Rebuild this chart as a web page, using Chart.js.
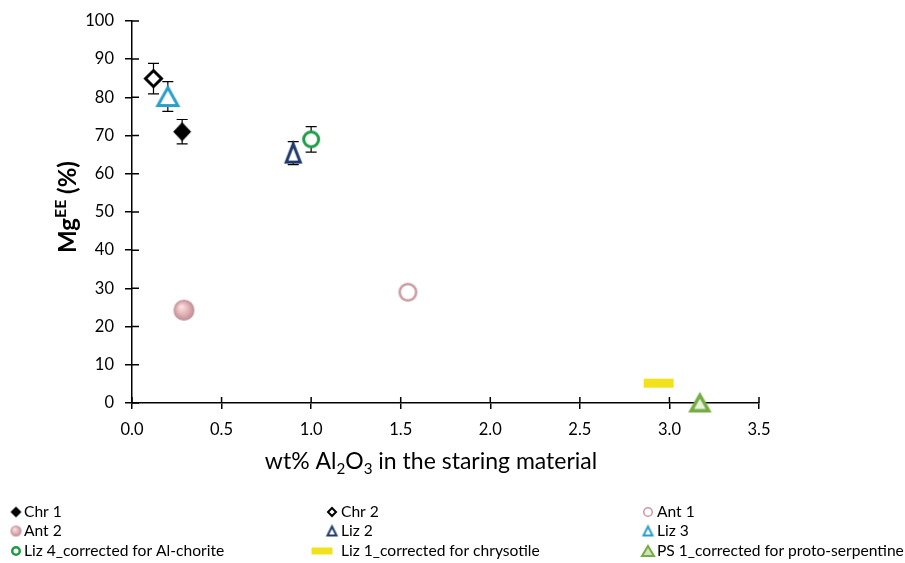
<!DOCTYPE html>
<html>
<head>
<meta charset="utf-8">
<script src="https://cdn.jsdelivr.net/npm/chart.js@4.4.1/dist/chart.umd.min.js"></script>
<style>
  html, body { margin: 0; padding: 0; background: #fff; }
  canvas { display: block; }
</style>
</head>
<body>
<canvas id="chart" width="905" height="563"></canvas>
<script>
// ====== data ======
const names = [
  "Chr 1", "Chr 2", "Ant 1",
  "Ant 2", "Liz 2", "Liz 3",
  "Liz 4_corrected for Al-chorite", "Liz 1_corrected for chrysotile", "PS 1_corrected for proto-serpentine"
];
const al2o3 = [0.28, 0.12, 1.54, 0.29, 0.90, 0.20, 1.00, 2.94, 3.17];
const mgEE  = [71.0, 84.9, 29.0, 24.3, 65.4, 80.2, 69.0, 5.2, 0.0];
const mgErr = [3.2, 4.0, null, null, 3.0, 3.9, 3.35, null, null];
const xTickValues = [0, 0.5, 1.0, 1.5, 2.0, 2.5, 3.0, 3.5];
const yTickValues = [0, 10, 20, 30, 40, 50, 60, 70, 80, 90, 100];

const FONT = "Lato, 'Noto Sans', sans-serif";

// marker look, one per series
const markers = [
  { shape: "diamond", w: 18, h: 19, fill: "#000", stroke: "#000", lw: 1 },
  { shape: "diamond", w: 19, h: 19, fill: "#fff", stroke: "#000", lw: 3 },
  { shape: "circle", w: 19, h: 19, fill: "#fff", stroke: "#c99a9f", lw: 2.5 },
  { shape: "sphere", w: 21, h: 21 },
  { shape: "triangle", w: 17, h: 21, fill: "#fff", stroke: "#1f3a6a", lw: 3 },
  { shape: "triangle", w: 23, h: 21, fill: "#fff", stroke: "#2a9fca", lw: 3 },
  { shape: "circle", w: 18, h: 18, fill: "#fff", stroke: "#1d9c46", lw: 3 },
  { shape: "bar", w: 30, h: 9, fill: "#f1e21c" },
  { shape: "triangle", w: 21, h: 19, fill: "#e8f2da", stroke: "#75ab43", lw: 3.5 },
];
const legendMarkers = [
  { shape: "diamond", w: 11, h: 11, fill: "#000", stroke: "#000", lw: 1 },
  { shape: "diamond", w: 10, h: 10, fill: "#fff", stroke: "#000", lw: 2 },
  { shape: "circle", w: 10, h: 10, fill: "#fff", stroke: "#c99a9f", lw: 1.5 },
  { shape: "sphere", w: 11, h: 11 },
  { shape: "triangle", w: 11, h: 11, fill: "#fff", stroke: "#1f3a6a", lw: 2 },
  { shape: "triangle", w: 11, h: 11, fill: "#fff", stroke: "#2a9fca", lw: 2 },
  { shape: "circle", w: 10, h: 10, fill: "#fff", stroke: "#1d9c46", lw: 2.5 },
  { shape: "bar", w: 21, h: 7, fill: "#f1e21c" },
  { shape: "triangle", w: 14, h: 12, fill: "#cfe3b6", stroke: "#75ab43", lw: 2 },
];
const legendIconX = [16, 332, 648];
const legendTextX = [24, 341, 657];
const legendRowY = [512, 531, 551];

// ====== marker images ======
function makeMarker(m) {
  const pad = 4;
  const cv = document.createElement("canvas");
  cv.width = Math.ceil(m.w + pad * 2);
  cv.height = Math.ceil(m.h + pad * 2);
  const c = cv.getContext("2d");
  const cx = cv.width / 2, cy = cv.height / 2;
  const lw = m.lw || 0;
  const w = m.w - lw, h = m.h - lw;
  c.lineJoin = "miter";
  c.beginPath();
  if (m.shape === "diamond") {
    c.moveTo(cx, cy - h / 2);
    c.lineTo(cx + w / 2, cy);
    c.lineTo(cx, cy + h / 2);
    c.lineTo(cx - w / 2, cy);
    c.closePath();
  } else if (m.shape === "triangle") {
    c.moveTo(cx, cy - h / 2);
    c.lineTo(cx + w / 2, cy + h / 2);
    c.lineTo(cx - w / 2, cy + h / 2);
    c.closePath();
  } else if (m.shape === "bar") {
    c.rect(cx - m.w / 2, cy - m.h / 2, m.w, m.h);
  } else {
    c.arc(cx, cy, (m.shape === "sphere" ? m.w : w) / 2, 0, Math.PI * 2);
  }
  if (m.shape === "sphere") {
    const r = m.w / 2;
    const g = c.createRadialGradient(cx - r * 0.3, cy - r * 0.35, 0, cx, cy, r);
    g.addColorStop(0, "#fbe8ea");
    g.addColorStop(0.55, "#e6b4b9");
    g.addColorStop(1, "#b98c92");
    c.fillStyle = g;
    c.fill();
  } else {
    c.fillStyle = m.fill;
    c.fill();
    if (lw) {
      c.lineWidth = lw;
      c.strokeStyle = m.stroke;
      c.stroke();
    }
  }
  return cv;
}
const pointImgs = markers.map(makeMarker);
const legendImgs = legendMarkers.map(makeMarker);

// ====== text with sub / superscripts ======
function drawRich(ctx, parts, x, y, size, weight) {
  const fontOf = (s) => `${weight} ${s ? size * 0.66 : size}px ${FONT}`;
  let total = 0;
  parts.forEach((p) => {
    ctx.font = fontOf(p.s);
    total += ctx.measureText(p.t).width;
  });
  let cur = x - total / 2;
  ctx.textAlign = "left";
  ctx.textBaseline = "alphabetic";
  parts.forEach((p) => {
    ctx.font = fontOf(p.s);
    const dy = p.s === 1 ? size * 0.22 : p.s === -1 ? -size * 0.42 : 0;
    ctx.fillText(p.t, cur, y + dy);
    cur += ctx.measureText(p.t).width;
  });
}

// ====== plugin: error bars, crossing ticks, titles, legend ======
const extras = {
  id: "extras",
  beforeDatasetsDraw(chart) {
    const { ctx, scales } = chart;
    ctx.save();
    ctx.strokeStyle = "#000";
    ctx.lineWidth = 1.2;
    mgErr.forEach((e, i) => {
      if (e == null) return;
      const px = scales.x.getPixelForValue(al2o3[i]);
      const top = scales.y.getPixelForValue(mgEE[i] + e);
      const bot = scales.y.getPixelForValue(mgEE[i] - e);
      ctx.beginPath();
      ctx.moveTo(px, top); ctx.lineTo(px, bot);
      ctx.moveTo(px - 5.5, top); ctx.lineTo(px + 5.5, top);
      ctx.moveTo(px - 5.5, bot); ctx.lineTo(px + 5.5, bot);
      ctx.stroke();
    });
    ctx.restore();
  },
  afterDraw(chart) {
    const { ctx, scales, chartArea } = chart;
    ctx.save();
    // inner half of the crossing tick marks
    ctx.strokeStyle = "#000";
    ctx.lineWidth = 1.5;
    ctx.beginPath();
    yTickValues.forEach((v) => {
      const py = scales.y.getPixelForValue(v);
      ctx.moveTo(chartArea.left, py); ctx.lineTo(chartArea.left + 7, py);
    });
    xTickValues.forEach((v) => {
      const px = scales.x.getPixelForValue(v);
      ctx.moveTo(px, chartArea.bottom); ctx.lineTo(px, chartArea.bottom - 6);
    });
    ctx.stroke();

    // axis titles
    ctx.fillStyle = "#000";
    drawRich(ctx, [
      { t: "wt% Al", s: 0 }, { t: "2", s: 1 }, { t: "O", s: 0 }, { t: "3", s: 1 },
      { t: " in the staring material", s: 0 }
    ], 431, 469, 23, "normal");

    ctx.save();
    ctx.translate(76, 207);
    ctx.rotate(-Math.PI / 2);
    drawRich(ctx, [{ t: "Mg", s: 0 }, { t: "EE", s: -1 }, { t: " (%)", s: 0 }], 0, 0, 24, "bold");
    ctx.restore();

    // legend, three columns
    ctx.font = `15.6px ${FONT}`;
    ctx.textAlign = "left";
    ctx.textBaseline = "middle";
    names.forEach((n, i) => {
      const col = i % 3, row = Math.floor(i / 3);
      const img = legendImgs[i];
      const ix = i === 7 ? 322 : legendIconX[col];
      ctx.drawImage(img, ix - img.width / 2, legendRowY[row] - img.height / 2);
      ctx.fillText(n, legendTextX[col], legendRowY[row]);
    });
    ctx.restore();
  }
};

// ====== chart ======
new Chart(document.getElementById("chart"), {
  type: "scatter",
  data: {
    datasets: names.map((n, i) => ({
      label: n,
      data: [{ x: al2o3[i], y: mgEE[i] }],
      pointStyle: pointImgs[i],
      pointRadius: 10,
      pointHoverRadius: 10,
    })),
  },
  options: {
    responsive: false,
    animation: false,
    devicePixelRatio: 1,
    clip: false,
    layout: { padding: { left: 0, right: 146, top: 19, bottom: 0 } },
    plugins: { legend: { display: false }, tooltip: { enabled: false } },
    scales: {
      x: {
        type: "linear",
        min: 0,
        max: 3.5,
        border: { color: "#000", width: 1.5 },
        grid: { drawOnChartArea: false, color: "#000", lineWidth: 1.5, tickLength: 6 },
        ticks: {
          color: "#000",
          font: { family: FONT, size: 16.5 },
          padding: 11,
          callback: (v) => Number(v).toFixed(1),
        },
        afterBuildTicks: (s) => { s.ticks = xTickValues.map((v) => ({ value: v })); },
        afterFit: (s) => { s.height = 160; },
      },
      y: {
        type: "linear",
        min: 0,
        max: 100,
        border: { color: "#000", width: 1.5 },
        grid: { drawOnChartArea: false, color: "#000", lineWidth: 1.5, tickLength: 7 },
        ticks: {
          color: "#000",
          font: { family: FONT, size: 16.5 },
          padding: 11,
        },
        afterBuildTicks: (s) => { s.ticks = yTickValues.map((v) => ({ value: v })); },
        afterFit: (s) => { s.width = 132; },
      },
    },
  },
  plugins: [extras],
});
</script>
</body>
</html>
